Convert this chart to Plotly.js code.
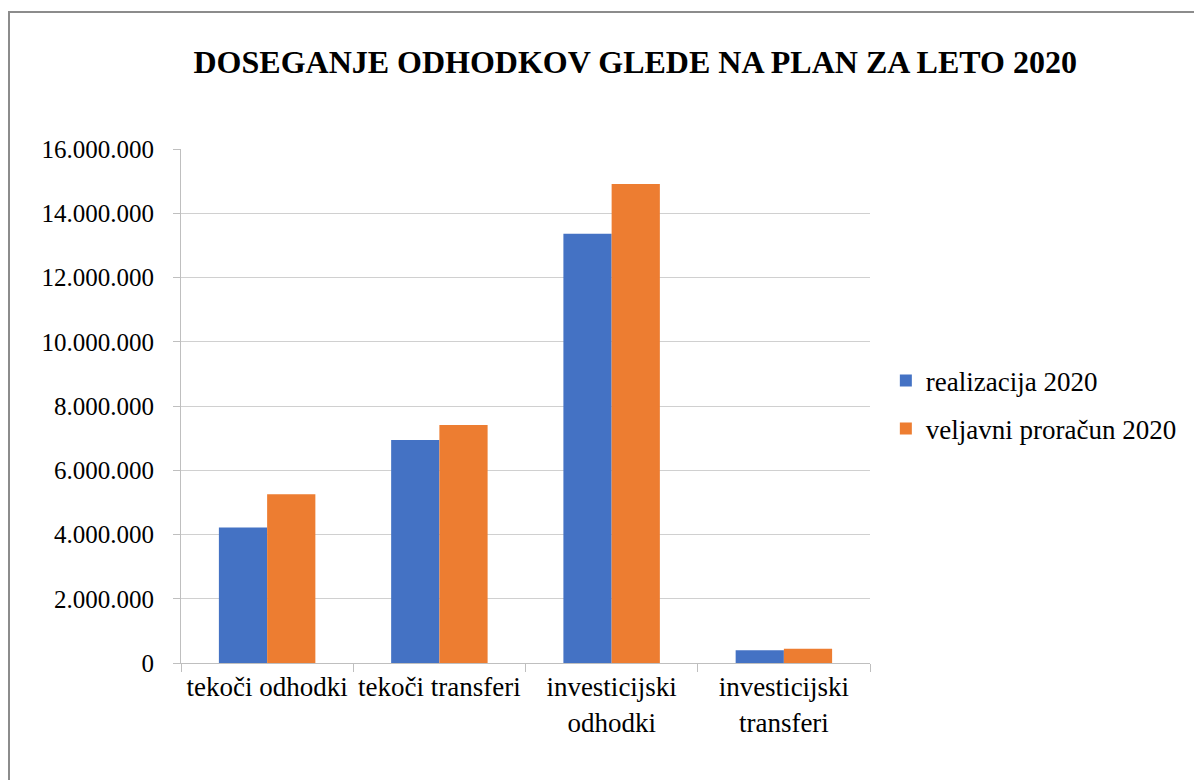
<!DOCTYPE html>
<html>
<head>
<meta charset="utf-8">
<script src="https://cdn.plot.ly/plotly-3.0.1.min.js"></script>
<style>
html,body{margin:0;padding:0;background:#fff;}
#wrap{position:relative;width:1194px;height:780px;}
#chart{position:absolute;left:0;top:0;width:1194px;height:780px;}
#frame{position:absolute;left:8px;top:11px;width:1186px;height:769px;border-top:2px solid #8c8c8c;border-left:2px solid #8c8c8c;box-sizing:border-box;pointer-events:none;}
</style>
</head>
<body>
<div id="wrap"><div id="chart"></div><div id="frame"></div></div>
<script>
const categories = ["tekoči odhodki", "tekoči transferi", "investicijski<br>odhodki", "investicijski<br>transferi"];
const realizacija2020 = [4220000, 6940000, 13360000, 400000];
const veljavniProracun2020 = [5250000, 7410000, 14910000, 440000];
const seriesNames = ["realizacija 2020", "veljavni proračun 2020"];
const yTicks = [0, 2000000, 4000000, 6000000, 8000000, 10000000, 12000000, 14000000, 16000000];

const FONT = "Liberation Serif, serif";

const traces = [
  {type: 'bar', name: seriesNames[0], x: categories, y: realizacija2020,
   marker: {color: '#4472C4'}, legendgroup: 'a', hoverinfo: 'y'},
  {type: 'bar', name: seriesNames[1], x: categories, y: veljavniProracun2020,
   marker: {color: '#ED7D31'}, legendgroup: 'b', hoverinfo: 'y'}
];

const layout = {
  width: 1194, height: 780,
  paper_bgcolor: 'rgba(0,0,0,0)', plot_bgcolor: '#fff',
  separators: ',.',
  margin: {l: 181, r: 322, t: 149, b: 117},
  font: {family: FONT, color: '#000', size: 25},
  title: {text: '<b>DOSEGANJE ODHODKOV GLEDE NA PLAN ZA LETO 2020</b>',
          font: {family: FONT, size: 32, color: '#000'},
          x: 0.532, xref: 'container', xanchor: 'center',
          y: 1 - 62/780, yref: 'container', yanchor: 'middle'},
  bargap: 0.44, bargroupgap: 0,
  xaxis: {type: 'category', showline: true, linecolor: '#bfbfbf', linewidth: 1,
          ticks: 'outside', tickson: 'boundaries', ticklen: 8, tickcolor: '#bfbfbf',
          tickfont: {family: FONT, size: 27, color: '#000'}, showgrid: false, fixedrange: true},
  yaxis: {range: [0, 16000000], tickvals: yTicks, tickformat: ',d',
          showline: true, linecolor: '#bfbfbf', linewidth: 1,
          ticks: 'outside', ticklen: 7, tickcolor: '#bfbfbf', ticklabelstandoff: 14,
          showgrid: true, gridcolor: '#d0d0d0', gridwidth: 1, zeroline: false,
          tickfont: {family: FONT, size: 25, color: '#000'}, fixedrange: true},
  showlegend: true,
  legend: {x: 1.023, xanchor: 'left', y: 0.502, yanchor: 'middle',
           font: {family: FONT, size: 27, color: '#000'},
           traceorder: 'grouped', tracegroupgap: 10, itemwidth: 30,
           bgcolor: 'rgba(0,0,0,0)'}
};

Plotly.newPlot('chart', traces, layout, {displayModeBar: false, staticPlot: true});
</script>
</body>
</html>
